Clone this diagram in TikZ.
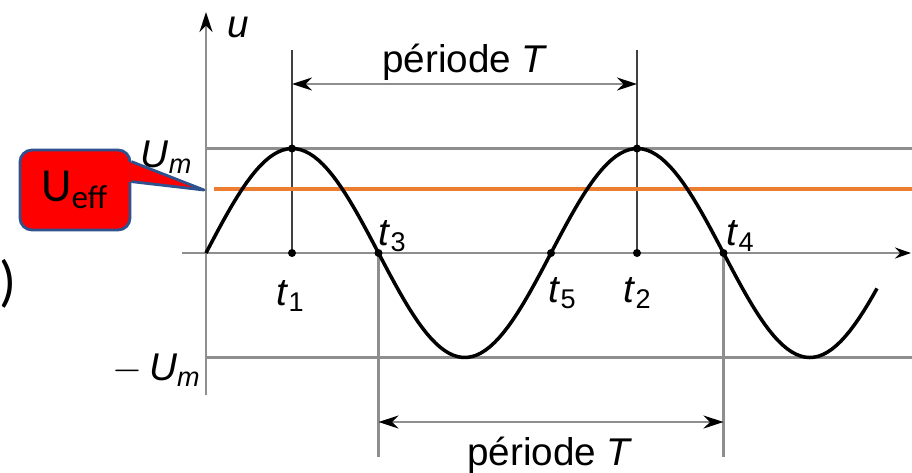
\documentclass[tikz,border=0pt]{standalone}
\usepackage{fontspec}
\setmainfont{Liberation Sans}
\newfontfamily\calibri{Carlito}
\usetikzlibrary{arrows.meta, positioning, calc}
\definecolor{axisgray}{HTML}{8E8E8E}
\definecolor{effline}{HTML}{ED7D31}
\definecolor{callred}{HTML}{FF0000}
\definecolor{callblue}{HTML}{2F528F}

\begin{document}
\begin{tikzpicture}[x=0.1mm, y=-0.1mm,
      >={Stealth[length=2mm, width=1.3mm, black]},
      axis/.style={axisgray, line width=0.6pt},
      guide/.style={black!75, line width=0.5pt},
      dim/.style={<->, axisgray, line width=0.6pt},
      wave/.style={black, line width=1pt},
      dot/.style={circle, fill=black, inner sep=0pt, minimum size=0.8mm},
      lbl/.style={font=\fontsize{11}{13}\selectfont, inner sep=1pt},
      callbox/.style={draw=callblue, fill=callred, line width=0.8pt, rounded corners=1.2mm,
                      minimum width=1.1cm, minimum height=0.8cm, inner sep=0pt,
                      font=\calibri\fontsize{13.5}{15}\selectfont}]
    \useasboundingbox (0,0) rectangle (912,472);
    \coordinate (o)    at (206,253);
    \coordinate (yBot) at (206,395);  \coordinate (yTop) at (206,12);
    \coordinate (xL)   at (182,253);  \coordinate (xR)   at (911,253);
    \coordinate (umL)  at (206,148.5); \coordinate (umR) at (912,148.5);
    \coordinate (mumL) at (206,357.5); \coordinate (mumR) at (912,357.5);
    \coordinate (effL) at (214,189);  \coordinate (effR) at (912,189);
    \coordinate (t1) at (292,253);    \coordinate (m1) at (292,148.5);
    \coordinate (t2) at (637,253);    \coordinate (m2) at (637,148.5);
    \coordinate (t3) at (378.5,253);  \coordinate (t4) at (723.5,253);
    \coordinate (t5) at (551,253);
    \coordinate (top1) at (292,50);   \coordinate (top2) at (637,50);
    \coordinate (bot3) at (378.5,457); \coordinate (bot4) at (723.5,457);
    \coordinate (dimtop) at (0,84);   \coordinate (dimbot) at (0,422);
    \draw[axis] (umL) -- (umR);
    \draw[axis] (mumL) -- (mumR);
    \draw[axis, -{Stealth[length=1.6mm, width=1.1mm, black]}] (xL) -- (xR);
    \draw[axis, ->] (yBot) -- (yTop);
    \draw[guide] (top1) -- (t1);
    \draw[guide] (top2) -- (t2);
    \draw[axis] (t3) -- (bot3);
    \draw[axis] (t4) -- (bot4);
    \draw[dim] (top1 |- dimtop) -- (top2 |- dimtop);
    \draw[dim] (bot3 |- dimbot) -- (bot4 |- dimbot);
    \draw[effline, line width=1.1pt] (effL) -- (effR);
    \draw[wave] plot[domain=206:877, samples=150] (\x, {253 - 104.5*sin((\x-206)/345*360)});
    \node[dot] (d1) at (m1) {};  \node[dot] (e1) at (t1) {};
    \node[dot] (d2) at (m2) {};  \node[dot] (e2) at (t2) {};
    \node[dot] (e3) at (t3) {};  \node[dot] (e4) at (t4) {};
    \node[dot] (e5) at (t5) {};
    \node[lbl] (uLbl)   at (238,27)  {\textit{u}};
    \node[lbl] (perTop) at (465,62)  {période \textit{T}};
    \node[lbl] (perBot) at (550,455) {période \textit{T}};
    \node[lbl] (umLbl)  at (167,157) {\textit{U\textsubscript{m}}};
    \node[lbl] (mumLbl) at (157,370) {$-$\,\textit{U\textsubscript{m}}};
    \node[lbl] (t1Lbl)  at (291,296) {\textit{t}\textsubscript{1}};
    \node[lbl] (t3Lbl)  at (393,236) {\textit{t}\textsubscript{3}};
    \node[lbl] (t5Lbl)  at (563,293) {\textit{t}\textsubscript{5}};
    \node[lbl] (t2Lbl)  at (638,293) {\textit{t}\textsubscript{2}};
    \node[lbl] (t4Lbl)  at (741,236) {\textit{t}\textsubscript{4}};
    \node[lbl, font=\calibri\fontsize{16}{18}\selectfont] (paren) at (8,284) {)};
    \node[callbox] (ueff) at (75,190) {U\textsubscript{eff}};
    \coordinate (ptrTip) at (204,190);
    \fill[callred] ($(ueff.north east)+(-3,13)$) -- (ptrTip) -- ($(ueff.north east)+(-3,33)$) -- cycle;
    \draw[callblue, line width=0.8pt, line join=round]
      ($(ueff.north east)+(0,13)$) -- (ptrTip) -- ($(ueff.north east)+(0,33)$);
  \end{tikzpicture}
\end{document}
